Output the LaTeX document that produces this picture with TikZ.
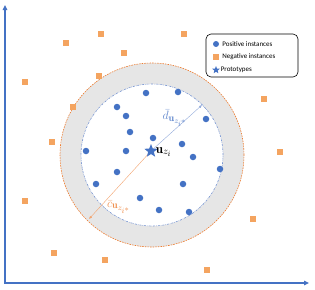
\documentclass[tikz,border=0pt]{standalone}
\usepackage{amsmath}
\usepackage{amssymb}
\usepackage{fontspec}
\setsansfont{Carlito}
\usetikzlibrary{arrows.meta,positioning}
\usetikzlibrary{shapes.geometric}
\DeclareMathSizes{13}{13}{10}{8}

\definecolor{posblue}{RGB}{68,114,196}
\definecolor{lineblue}{RGB}{120,150,210}
\definecolor{negorange}{RGB}{244,164,96}
\definecolor{lineorange}{RGB}{237,125,49}
\definecolor{ringgray}{RGB}{230,230,230}

\begin{document}
\begin{tikzpicture}[
    x=1pt, y=-1pt,
    posdot/.style={circle, fill=posblue, inner sep=0pt, minimum size=6.5pt},
    negsq/.style={rectangle, fill=negorange, inner sep=0pt, minimum size=5.5pt},
    protostar/.style={star, star points=5, star point ratio=2.3, fill=posblue, inner sep=0pt, minimum size=14pt},
    legtext/.style={font=\sffamily\fontsize{7}{8}\selectfont, inner sep=0pt, anchor=west},
    axis/.style={posblue, line width=1.4pt, -{Triangle[length=5pt,width=4.5pt]}},
    mathlab/.style={inner sep=0pt, font=\fontsize{13}{14}\selectfont},
]
\useasboundingbox (0,0) rectangle (315,289);

\coordinate (origin) at (5,283);
\coordinate (ytop) at (5,5);
\coordinate (xend) at (309,283);
\draw[axis] (origin) -- (ytop);
\draw[axis] ([xshift=-0.7pt]origin) -- (xend);

\node[circle, inner sep=0pt, minimum size=184pt, fill=ringgray,
    draw=lineorange, line width=0.6pt, dash pattern=on 1.6pt off 1pt] (outer) at (152,155) {};
\node[circle, inner sep=0pt, minimum size=142pt, fill=white,
    draw=lineblue, line width=0.6pt, dash pattern=on 2pt off 1pt on 0.6pt off 1pt] (inner) at (152,155) {};

\coordinate (dtip) at (202,105);
\coordinate (ctip) at (89,219);
\coordinate (center) at (151,151);
\draw[lineblue!80, line width=0.4pt, -{Latex[length=3pt,width=2.5pt]}] (center) -- (dtip);
\draw[lineorange!70, line width=0.4pt, -{Latex[length=3pt,width=2.5pt]}] (center) -- (ctip);

\foreach \p [count=\i] in {(146,93),(178,92),(117,107),(126,116),(206,119),
    (130,132),(153,138),(182,144),(86,151),(126,151),(193,157),(220,169),
    (117,172),(96,184),(183,184),(140,198),(159,210),(189,212)}
    \node[posdot] (p\i) at \p {};

\foreach \q [count=\i] in {(101,34),(184,34),(66,43),(124,53),(25,82),
    (99,76),(264,99),(73,107),(52,142),(280,152),(25,201),(253,219),
    (54,253),(105,260),(207,270)}
    \node[negsq] (n\i) at \q {};

\node[protostar] (uz) at (center) {};
\node[mathlab, anchor=west] (uzlab) at ([xshift=0.3pt,yshift=-1pt]uz.east) {$\mathbf{u}_{z_i}$};
\node[mathlab, text=posblue!85] (dlab) at (175,118) {$\bar{d}_{\mathbf{u}_{z_{i^*}}}$};
\node[mathlab, text=lineorange!85] (clab) at (119,207) {$\bar{c}_{\mathbf{u}_{z_{i^*}}}$};

\node[draw, rounded corners=5pt, line width=0.6pt, minimum width=92pt, minimum height=43pt] (legend) at (252,55.5) {};
\node[posdot, minimum size=6pt] (lpos) at (216,44) {};
\node[legtext, right=3pt of lpos] (tpos) {Positive instances};
\node[negsq] (lneg) at (216,57) {};
\node[legtext, right=3.2pt of lneg] (tneg) {Negative instances};
\node[protostar, minimum size=8pt] (lproto) at (216,70) {};
\node[legtext, right=2pt of lproto] (tproto) {Prototypes};
\end{tikzpicture}
\end{document}
